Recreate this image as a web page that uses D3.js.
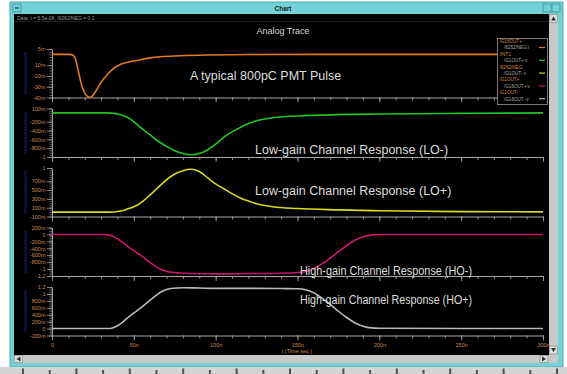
<!DOCTYPE html>
<html>
<head>
<meta charset="utf-8">
<script src="https://cdn.jsdelivr.net/npm/d3@7"></script>
<style>
  html, body { margin: 0; padding: 0; background: #ffffff; }
  svg { display: block; }
  text { font-family: "Liberation Sans", Arial, sans-serif; }
</style>
</head>
<body>
<svg id="chart" width="567" height="374"></svg>
<script>
// ---- time axis (ns) ----
const timeTicks = [0, 50, 100, 150, 200, 250, 300];
const timeTickLabels = ["0", "50n", "100n", "150n", "200n", "250n", "300n"];

// ---- PMT pulse current /6262/NEG (A) ----
const pmtTime = [0, 10, 12, 14, 16, 18, 20, 22, 23.5, 25, 27, 29.5, 33, 37, 42, 47, 52, 58, 66, 78, 95, 130, 200, 300];
const pmtValue = [0, 0, -0.0002, -0.003, -0.015, -0.028, -0.036, -0.0393, -0.0397, -0.038, -0.0335, -0.027, -0.02, -0.0138, -0.0092, -0.007, -0.0056, -0.0037, -0.0022, -0.0013, -0.0006, -0.0001, 0, 0];

// ---- low-gain channel /G1OUT+ (V) ----
const loMinusTime = [0, 33, 38, 42, 46, 50, 54, 60, 64, 70, 74, 80, 85, 90, 95, 100, 105, 110, 115, 120, 125, 135, 150, 175, 200, 250, 300];
const loMinusValue = [0, 0, -0.01, -0.04, -0.1, -0.2, -0.33, -0.5, -0.62, -0.76, -0.84, -0.92, -0.95, -0.92, -0.84, -0.71, -0.55, -0.43, -0.33, -0.24, -0.18, -0.11, -0.07, -0.04, -0.025, -0.01, 0];

// ---- low-gain channel /G1OUT- (V) ----
const loPlusTime = [0, 35, 40, 44, 48, 52, 56, 60, 64, 68, 72, 76, 80, 85, 90, 95, 100, 105, 110, 115, 120, 125, 135, 150, 175, 200, 250, 300];
const loPlusValue = [0, 0, 0.015, 0.044, 0.09, 0.155, 0.26, 0.39, 0.53, 0.67, 0.79, 0.88, 0.94, 0.97, 0.92, 0.78, 0.64, 0.53, 0.42, 0.32, 0.25, 0.19, 0.12, 0.08, 0.05, 0.03, 0.01, 0.005];

// ---- high-gain channel /G16OUT+ (V) ----
const hiMinusTime = [0, 32, 35, 38, 41, 45, 50, 54, 58, 62, 66, 70, 75, 85, 100, 120, 140, 150, 155, 160, 165, 170, 175, 180, 185, 190, 195, 200, 250, 300];
const hiMinusValue = [0, 0, -0.02, -0.07, -0.16, -0.3, -0.47, -0.6, -0.74, -0.88, -1.0, -1.07, -1.1, -1.13, -1.14, -1.13, -1.12, -1.1, -1.07, -0.98, -0.85, -0.68, -0.5, -0.32, -0.17, -0.07, -0.02, 0, 0, 0];

// ---- high-gain channel /G16OUT- (V) ----
const hiPlusTime = [0, 34, 37, 40, 43, 46, 50, 54, 60, 64, 67, 70, 74, 80, 90, 100, 120, 140, 150, 155, 160, 165, 170, 175, 180, 185, 190, 195, 200, 250, 300];
const hiPlusValue = [0, 0, 0.015, 0.08, 0.18, 0.3, 0.45, 0.59, 0.82, 0.97, 1.07, 1.13, 1.165, 1.18, 1.17, 1.16, 1.16, 1.155, 1.15, 1.12, 1.03, 0.88, 0.7, 0.5, 0.32, 0.17, 0.07, 0.02, 0.01, 0, 0];

// ---- y-axis ticks per strip ----
const pmtTicks = [0.005, -0.01, -0.02, -0.03, -0.04];
const pmtTickLabels = ["5m", "-10m", "-20m", "-30m", "-40m"];
const loMinusTicks = [0.1, -0.2, -0.4, -0.6, -0.8, -1];
const loMinusTickLabels = ["100m", "-200m", "-400m", "-600m", "-800m", "-1"];
const loPlusTicks = [1, 0.7, 0.5, 0.3, 0.1, -0.1];
const loPlusTickLabels = ["1", "700m", "500m", "300m", "100m", "-100m"];
const hiMinusTicks = [0.2, 0, -0.2, -0.4, -0.6, -0.8, -1, -1.2];
const hiMinusTickLabels = ["200m", "0", "-200m", "-400m", "-600m", "-800m", "-1", "-1.2"];
const hiPlusTicks = [1.2, 1, 0.8, 0.6, 0.4, 0.2, 0, -0.2];
const hiPlusTickLabels = ["1.2", "1", "800m", "600m", "400m", "200m", "0", "-200m"];

// ---- legend rows ----
const legendNames = ["/G16OUT+", "/6262/NEG:i", "/INT1", "/G1OUT+:v", "/6262/NEG", "/G1OUT-:v", "/G1OUT+", "/G16OUT+:v", "/G1OUT-", "/G16OUT-:v"];

const annotations = [
  "A typical 800pC PMT Pulse",
  "Low-gain Channel Response (LO-)",
  "Low-gain Channel Response (LO+)",
  "High-gain Channel Response (HO-)",
  "High-gain Channel Response (HO+)"
];

const strips = [
  { t: pmtTime, v: pmtValue, dom: [-0.04, 0.005], ticks: pmtTicks, labels: pmtTickLabels, minor: 0.0025, color: "#e27a22" },
  { t: loMinusTime, v: loMinusValue, dom: [-1, 0.1], ticks: loMinusTicks, labels: loMinusTickLabels, minor: 0.05, color: "#22c425" },
  { t: loPlusTime, v: loPlusValue, dom: [-0.1, 1], ticks: loPlusTicks, labels: loPlusTickLabels, minor: 0.05, color: "#d9d91e" },
  { t: hiMinusTime, v: hiMinusValue, dom: [-1.2, 0.2], ticks: hiMinusTicks, labels: hiMinusTickLabels, minor: 0.05, color: "#c8176b" },
  { t: hiPlusTime, v: hiPlusValue, dom: [-0.2, 1.2], ticks: hiPlusTicks, labels: hiPlusTickLabels, minor: 0.05, color: "#b9b9b9" }
];

const svg = d3.select("#chart");
const W = 567, H = 374;
const cyan = "#72d3d6", chrome = "#c8c8c8", tickCol = "#a8a8a8", labelCol = "#c98a4e";

// ---- window frame ----
svg.append("rect").attr("x", 0).attr("y", 0).attr("width", W).attr("height", H).attr("fill", "#ffffff");
svg.append("rect").attr("x", 10).attr("y", 2).attr("width", 553).attr("height", 365).attr("fill", cyan)
  .attr("stroke", "#4aa8ac").attr("stroke-width", 1);
svg.append("text").attr("x", 283).attr("y", 11).attr("text-anchor", "middle")
  .attr("font-size", 6.5).attr("font-weight", "bold").attr("fill", "#1a1a1a").text("Chart");
// title bar buttons
svg.append("rect").attr("x", 13).attr("y", 4).attr("width", 8).attr("height", 8).attr("fill", cyan).attr("stroke", "#3f9296").attr("stroke-width", 0.8);
svg.append("line").attr("x1", 15).attr("x2", 19).attr("y1", 8).attr("y2", 8).attr("stroke", "#1a1a1a");
svg.append("rect").attr("x", 543).attr("y", 4).attr("width", 8).attr("height", 8).attr("fill", cyan).attr("stroke", "#3f9296").attr("stroke-width", 0.8);
svg.append("rect").attr("x", 552).attr("y", 4).attr("width", 8).attr("height", 8).attr("fill", cyan).attr("stroke", "#3f9296").attr("stroke-width", 0.8);

// black drawing area
svg.append("rect").attr("x", 14).attr("y", 14).attr("width", 535).attr("height", 341).attr("fill", "#000000");
svg.append("line").attr("x1", 14).attr("x2", 549).attr("y1", 21.5).attr("y2", 21.5).attr("stroke", "#303030").attr("stroke-width", 0.6);
svg.append("text").attr("x", 17).attr("y", 19.5).attr("font-size", 5).attr("fill", "#9a9a9a")
  .text("Data: t = 5.5e-08, /6262/NEG = 0.1");

// vertical scrollbar
svg.append("rect").attr("x", 549).attr("y", 14).attr("width", 9).attr("height", 349).attr("fill", chrome);
svg.append("rect").attr("x", 549.5).attr("y", 14.5).attr("width", 8).attr("height", 8).attr("fill", "#dcdcdc").attr("stroke", "#808080").attr("stroke-width", 0.6);
svg.append("path").attr("d", "M553.5,16.5 L556,20.5 L551,20.5 Z").attr("fill", "#303030");
svg.append("rect").attr("x", 549.5).attr("y", 346).attr("width", 8).attr("height", 8).attr("fill", "#dcdcdc").attr("stroke", "#808080").attr("stroke-width", 0.6);
svg.append("path").attr("d", "M553.5,352 L556,348 L551,348 Z").attr("fill", "#303030");
// horizontal scrollbar
svg.append("rect").attr("x", 14).attr("y", 355).attr("width", 544).attr("height", 8).attr("fill", chrome);
svg.append("rect").attr("x", 14.5).attr("y", 355.5).attr("width", 8).attr("height", 7).attr("fill", "#dcdcdc").attr("stroke", "#808080").attr("stroke-width", 0.6);
svg.append("path").attr("d", "M16.5,359 L20.5,356.5 L20.5,361.5 Z").attr("fill", "#303030");
svg.append("rect").attr("x", 540).attr("y", 355.5).attr("width", 8).attr("height", 7).attr("fill", "#dcdcdc").attr("stroke", "#808080").attr("stroke-width", 0.6);
svg.append("path").attr("d", "M546,359 L542,356.5 L542,361.5 Z").attr("fill", "#303030");
// strip beneath the window
svg.append("rect").attr("x", 0).attr("y", 367).attr("width", W).attr("height", 7).attr("fill", "#d4d4d4");
svg.append("g").selectAll("rect").data(d3.range(0, 21)).join("rect")
  .attr("x", i => 22 + i * 26.7).attr("y", i => i % 2 ? 370 : 368.5)
  .attr("width", 2).attr("height", i => i % 2 ? 4 : 5.5).attr("fill", "#505050");

// ---- plot ----
const x = d3.scaleLinear().domain([0, 300]).range([52, 543]);
const stripTop = 49, stripStep = 59.5, stripH = 48.5;

svg.append("text").attr("x", 283).attr("y", 34).attr("text-anchor", "middle")
  .attr("font-size", 9).attr("fill", "#d8d8d8").text("Analog Trace");

const line = d3.line().curve(d3.curveMonotoneX);

strips.forEach((s, i) => {
  const top = stripTop + i * stripStep, bottom = top + stripH;
  const y = d3.scaleLinear().domain(s.dom).range([bottom, top]);
  const g = svg.append("g");

  // faint vertical axis-title band
  g.append("rect").attr("x", 24).attr("y", top + 3).attr("width", 3).attr("height", stripH - 6).attr("fill", "#0a1034");

  // y axis: major + minor ticks
  const minorVals = d3.range(Math.ceil(s.dom[0] / s.minor), Math.floor(s.dom[1] / s.minor) + 1).map(k => k * s.minor);
  g.append("g").attr("transform", "translate(52,0)")
    .call(d3.axisLeft(y).tickValues(minorVals).tickSize(2.5).tickFormat(""))
    .call(a => a.select(".domain").remove())
    .call(a => a.selectAll("line").attr("stroke", tickCol).attr("stroke-width", 0.6));
  g.append("g").attr("transform", "translate(52,0)")
    .call(d3.axisLeft(y).tickValues(s.ticks).tickSize(5).tickPadding(1.5)
      .tickFormat((d, k) => s.labels[k]).tickSizeOuter(0))
    .call(a => a.select(".domain").attr("stroke", tickCol).attr("stroke-width", 1))
    .call(a => a.selectAll("line").attr("stroke", tickCol).attr("stroke-width", 0.8))
    .call(a => a.selectAll("text").attr("fill", labelCol).attr("font-size", 5.5)
      .attr("font-family", "Liberation Sans, Arial, sans-serif"));

  // x axis along strip bottom
  g.append("g").attr("transform", `translate(0,${bottom})`)
    .call(d3.axisBottom(x).tickValues(d3.range(0, 301, 10)).tickSize(3).tickFormat("").tickSizeOuter(0))
    .call(a => a.select(".domain").attr("stroke", tickCol).attr("stroke-width", 1))
    .call(a => a.selectAll("line").attr("stroke", tickCol).attr("stroke-width", 0.8));
  g.append("g").attr("transform", `translate(0,${bottom})`)
    .call(d3.axisBottom(x).tickValues(timeTicks).tickSize(5).tickPadding(3)
      .tickFormat((d, k) => i === strips.length - 1 ? timeTickLabels[k] : "").tickSizeOuter(0))
    .call(a => a.select(".domain").remove())
    .call(a => a.selectAll("line").attr("stroke", tickCol).attr("stroke-width", 0.8))
    .call(a => a.selectAll("text").attr("fill", labelCol).attr("font-size", 5.5)
      .attr("font-family", "Liberation Sans, Arial, sans-serif"));

  // trace
  const pts = s.t.map((t, k) => [x(t), y(s.v[k])]);
  g.append("path").attr("d", line(pts)).attr("fill", "none")
    .attr("stroke", s.color).attr("stroke-width", 1.6);
});

svg.append("text").attr("x", 297).attr("y", 353).attr("text-anchor", "middle")
  .attr("font-size", 5.5).attr("fill", labelCol).text("t (Time:sec.)");

// ---- annotation labels ----
const annPos = [[190, 79.5], [255, 154], [255, 195], [300, 275], [300, 304]];
const annWidth = [null, null, null, 172, 172];
svg.append("g").selectAll("text").data(annotations).join("text")
  .attr("x", (d, k) => annPos[k][0]).attr("y", (d, k) => annPos[k][1])
  .attr("font-size", 12.5).attr("fill", "#dedede")
  .each(function (d, k) {
    if (annWidth[k]) d3.select(this).attr("textLength", annWidth[k]).attr("lengthAdjust", "spacingAndGlyphs");
  })
  .text(d => d);

// ---- legend ----
const lg = svg.append("g");
lg.append("rect").attr("x", 497.5).attr("y", 38.5).attr("width", 50).attr("height", 66)
  .attr("fill", "#000000").attr("stroke", "#9a9a9a").attr("stroke-width", 0.8);
const legendColors = strips.map(s => s.color);
lg.selectAll("text").data(legendNames).join("text")
  .attr("x", (d, k) => k % 2 ? 504 : 499.5)
  .attr("y", (d, k) => 43 + k * 6.4)
  .attr("font-size", 4.6)
  .attr("fill", (d, k) => k % 2 ? "#a8a8a8" : "#d58a3e")
  .text(d => d);
lg.selectAll("line").data(legendColors).join("line")
  .attr("x1", 539).attr("x2", 545)
  .attr("y1", (d, k) => 47.5 + k * 12.8).attr("y2", (d, k) => 47.5 + k * 12.8)
  .attr("stroke", d => d).attr("stroke-width", 1.2);
</script>
</body>
</html>
